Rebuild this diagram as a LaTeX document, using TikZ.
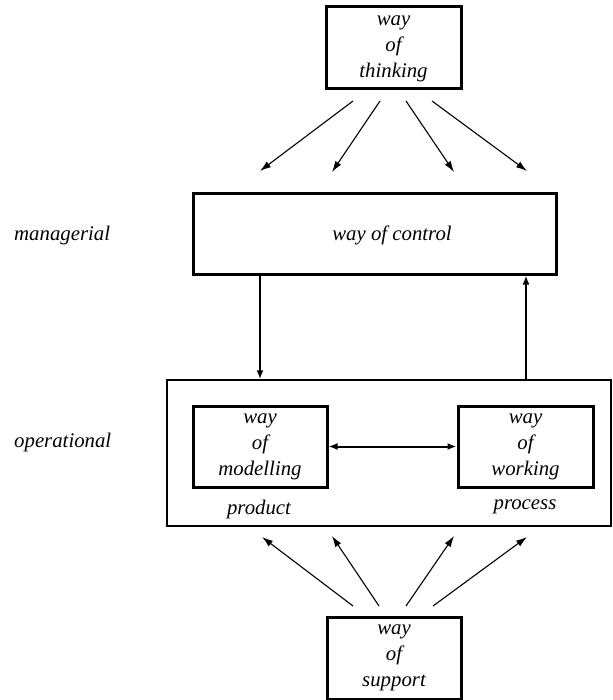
\documentclass[tikz,border=0pt]{standalone}
\usepackage{fontspec}
\setmainfont{Liberation Serif}
\usetikzlibrary{arrows.meta}
\tikzset{
  box/.style={draw, line width=3pt, inner sep=0pt},
  frame/.style={draw, line width=1.5pt, inner sep=0pt},
  txt/.style={font=\fontsize{20.8}{26}\selectfont\itshape, align=center, inner sep=0pt},
  thin arrow/.style={line width=1.1pt, -{Latex[length=11pt,width=7pt]}},
  thick arrow/.style={line width=2.5pt, -{Latex[length=9pt,width=7pt]}},
  both arrow/.style={line width=2pt, {Latex[length=9pt,width=7pt]}-{Latex[length=9pt,width=7pt]}}
}
\begin{document}
\begin{tikzpicture}[x=1pt,y=-1pt]
\useasboundingbox (0,0) rectangle (612,700);
% boxes
\node[box, minimum width=135pt, minimum height=82pt] (think) at (393.5,48) {};
\node[txt] (thinktext) at (393.5,49) {way\\of\\thinking};
\node[box, minimum width=363pt, minimum height=80pt] (control) at (374.5,234) {};
\node[txt] (controltext) at (392,235) {way of control};
\node[frame, minimum width=444pt, minimum height=146pt] (oper) at (389,453) {};
\node[box, minimum width=134pt, minimum height=81pt] (model) at (260,446.5) {};
\node[txt] (modeltext) at (260,447) {way\\of\\modelling};
\node[box, minimum width=135pt, minimum height=81pt] (work) at (525.5,446.5) {};
\node[txt] (worktext) at (525.5,447) {way\\of\\working};
\node[box, minimum width=134pt, minimum height=82pt] (support) at (394,658) {};
\node[txt] (supporttext) at (394,658) {way\\of\\support};
% labels
\node[txt, anchor=west] (managerial) at (14,235) {managerial};
\node[txt, anchor=west] (operational) at (14,442) {operational};
\node[txt] (product) at (259,509) {product};
\node[txt] (process) at (525,507) {process};
% thinking arrows
\coordinate (t1s) at (353,101); \coordinate (t1e) at (260,171);
\coordinate (t2s) at (380,101); \coordinate (t2e) at (332,172);
\coordinate (t3s) at (406,101); \coordinate (t3e) at (454,172);
\coordinate (t4s) at (432,101); \coordinate (t4e) at (527,171);
\draw[thin arrow] (t1s) -- (t1e);
\draw[thin arrow] (t2s) -- (t2e);
\draw[thin arrow] (t3s) -- (t3e);
\draw[thin arrow] (t4s) -- (t4e);
% support arrows
\coordinate (s1s) at (353,606); \coordinate (s1e) at (262,537);
\coordinate (s2s) at (379,606); \coordinate (s2e) at (332,536);
\coordinate (s3s) at (406,606); \coordinate (s3e) at (454,536);
\coordinate (s4s) at (433,606); \coordinate (s4e) at (527,537);
\draw[thin arrow] (s1s) -- (s1e);
\draw[thin arrow] (s2s) -- (s2e);
\draw[thin arrow] (s3s) -- (s3e);
\draw[thin arrow] (s4s) -- (s4e);
% control arrows
\draw[thick arrow] (control.south -| 260,0) -- (oper.north -| 260,0);
\draw[thick arrow] (oper.north -| 526,0) -- (control.south -| 526,0);
% modelling <-> working
\draw[both arrow] (model.east) -- (work.west);
\end{tikzpicture}
\end{document}
